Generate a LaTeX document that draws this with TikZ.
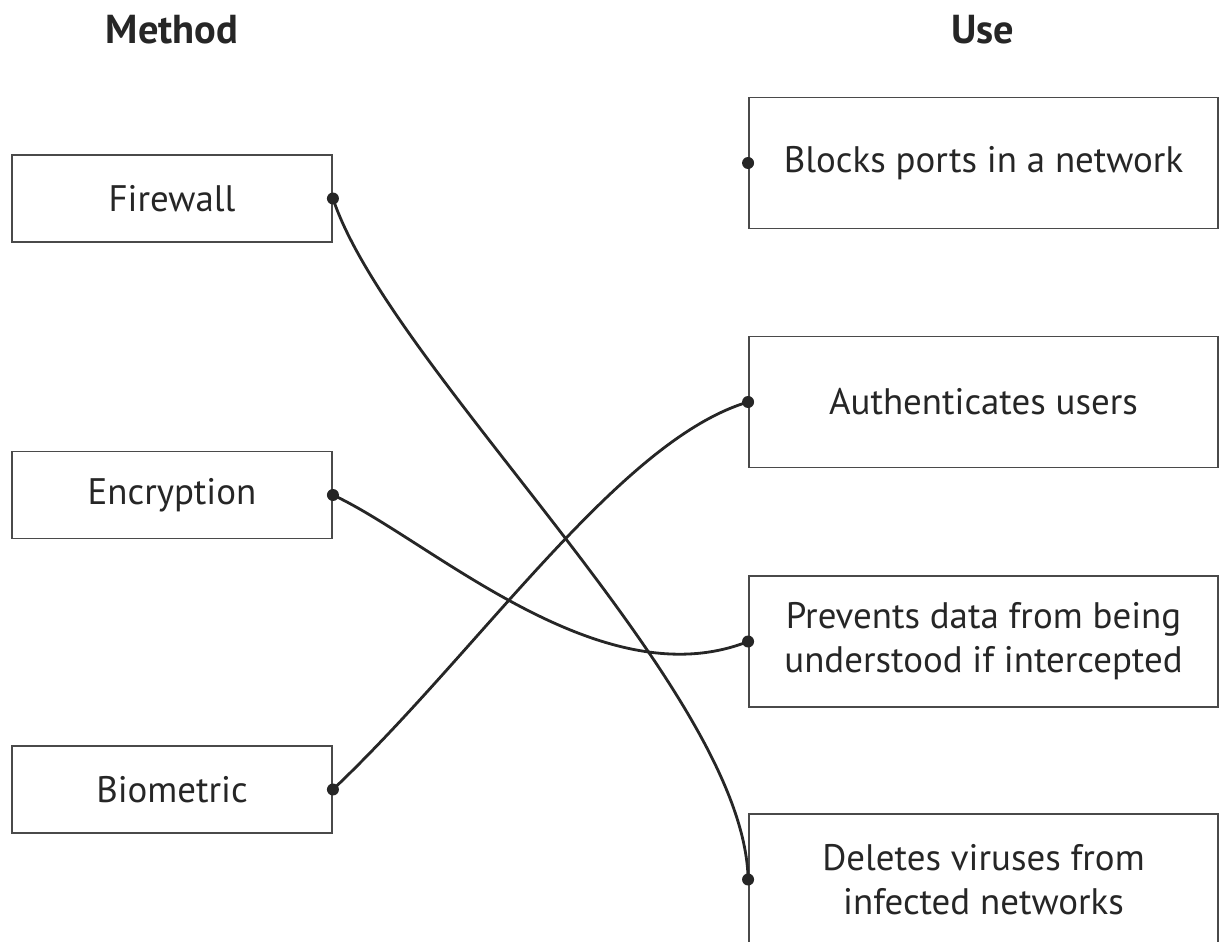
\documentclass[tikz,border=0pt]{standalone}
\usepackage{fontspec}
\setmainfont{PT Sans}
\definecolor{inkgray}{HTML}{262626}
\definecolor{framegray}{HTML}{4A4A4A}

\begin{document}
\begin{tikzpicture}[x=0.02cm,y=-0.02cm,
		every node/.style={font=\fontsize{21}{25}\selectfont,text=inkgray},
		head/.style={font=\fontsize{23}{27}\selectfont\bfseries},
		method/.style={draw=framegray,line width=1.1pt,minimum width=6.4cm,minimum height=1.74cm},
		use/.style={draw=framegray,line width=1.1pt,minimum width=9.38cm,minimum height=2.62cm,align=center},
		link/.style={draw=inkgray,line width=1.6pt}]
		\useasboundingbox (0,0) rectangle (1220,942);
		\clip (0,0) rectangle (1220,942);
		\node[head] (mhead) at (172,30) {Method};
		\node[head] (uhead) at (983,30) {Use};
		\node[method] (fw) at (172,198.5) {Firewall};
		\node[method] (enc) at (172,495) {Encryption};
		\node[method] (bio) at (172,789.5) {Biometric};
		\node[use] (blk) at (983.5,163) {Blocks ports in a network};
		\node[use] (auth) at (983.5,402) {Authenticates users};
		\node[use] (prev) at (983.5,641.5) {Prevents data from being\\understood if intercepted};
		\node[use] (del) at (983.5,879.5) {Deletes viruses from\\infected networks};
		\draw[link] (fw.east) .. controls (390,370) and (745,690) .. (del.west);
		\draw[link] (enc.east) .. controls (430,540) and (600,700) .. (prev.west);
		\draw[link] (bio.east) .. controls (480,650) and (620,440) .. (auth.west);
		\foreach \n in {fw,enc,bio}
			\fill[inkgray] (\n.east) circle (0.12cm);
		\foreach \n in {blk,auth,prev,del}
			\fill[inkgray] (\n.west) circle (0.12cm);
\end{tikzpicture}
\end{document}
